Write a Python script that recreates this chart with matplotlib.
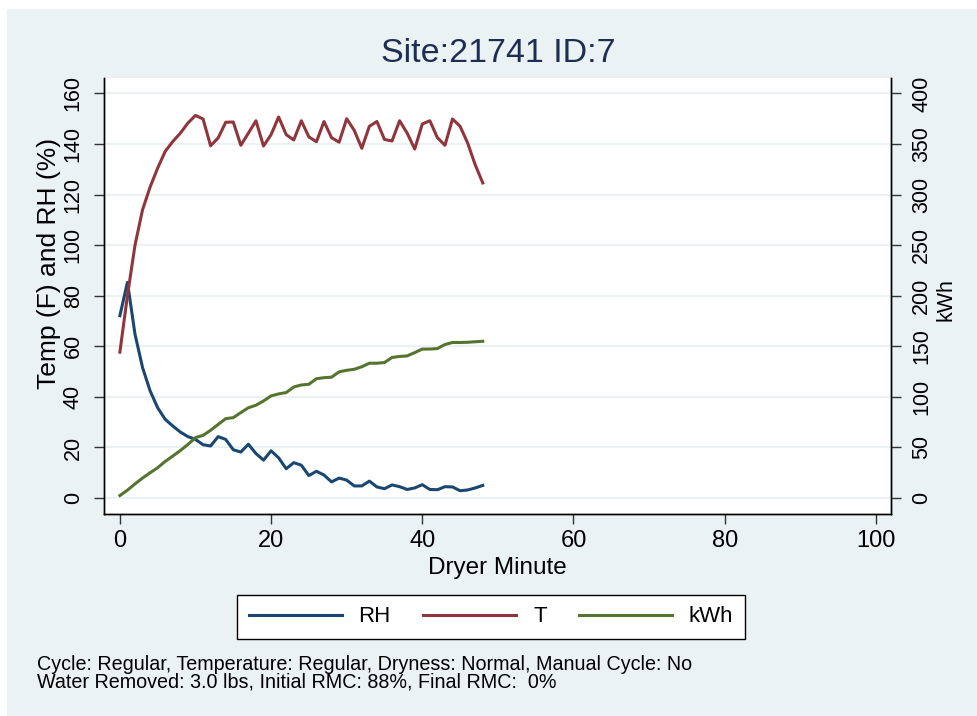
import matplotlib
matplotlib.use("Agg")
import matplotlib.pyplot as plt
from matplotlib.patches import Rectangle

plt.rcParams['font.family'] = ['Liberation Sans', 'DejaVu Sans']

minutes = [0, 1, 2, 3, 4, 5, 6, 7, 8, 9, 10, 11, 12, 13, 14, 15, 16, 17, 18, 19,
           20, 21, 22, 23, 24, 25, 26, 27, 28, 29, 30, 31, 32, 33, 34, 35, 36, 37, 38, 39,
           40, 41, 42, 43, 44, 45, 46, 47, 48]

rh = [72.1, 85.3, 64.8, 51.6, 42.4, 35.7, 31.1, 28.5, 26.1, 24.3,
      23.2, 21.1, 20.6, 24.3, 23.2, 19.1, 18.2, 21.3, 17.6, 15.0,
      18.7, 15.9, 11.6, 14.0, 13.0, 8.9, 10.6, 9.1, 6.4, 7.9,
      7.1, 4.8, 4.8, 6.7, 4.4, 3.7, 5.2, 4.5, 3.4, 4.0,
      5.3, 3.4, 3.3, 4.5, 4.4, 2.9, 3.2, 4.0, 5.0]

temp = [57.7, 80.0, 100.0, 114.0, 123.0, 130.5, 137.1, 141.0, 144.3, 148.3,
        151.3, 149.9, 139.3, 142.4, 148.6, 148.7, 139.5, 144.3, 149.2, 139.2,
        143.7, 150.7, 143.7, 141.6, 149.2, 142.8, 140.9, 148.9, 142.5, 140.7,
        150.0, 145.4, 138.3, 147.0, 148.9, 141.8, 141.2, 149.2, 144.3, 138.0,
        147.9, 149.2, 142.5, 139.5, 149.9, 147.0, 140.4, 131.8, 124.6]

kwh = [2.5, 7.8, 14.0, 19.8, 25.0, 30.0, 36.3, 41.5, 47.0, 53.0,
       59.8, 62.0, 67.0, 72.8, 78.5, 79.5, 84.5, 89.3, 91.8, 96.0,
       101.0, 103.0, 104.3, 109.8, 111.8, 112.5, 118.0, 119.0, 119.5, 124.8,
       126.3, 127.3, 129.8, 133.3, 133.3, 134.0, 139.0, 140.0, 140.5, 143.8,
       147.3, 147.3, 147.8, 151.8, 153.8, 153.8, 154.0, 154.5, 155.0]

left_ticks = [0, 20, 40, 60, 80, 100, 120, 140, 160]
right_ticks = [0, 50, 100, 150, 200, 250, 300, 350, 400]
x_ticks = [0, 20, 40, 60, 80, 100]

bg = '#EAF2F3'
W, H = 977, 716

fig = plt.figure(figsize=(W / 100, H / 100), dpi=100, facecolor='white')
fig.patches.append(Rectangle((7 / W, 0), 1 - 7 / W, 1 - 9 / H, transform=fig.transFigure,
                             facecolor=bg, edgecolor='none', zorder=-10))

ax = fig.add_axes([104 / W, (H - 514) / H, (891 - 104) / W, (514 - 78) / H])
ax.set_facecolor('white')
ax2 = ax.twinx()

l1, = ax.plot(minutes, rh, color='#1a476f', lw=2.2, label='RH')
l2, = ax.plot(minutes, temp, color='#90353b', lw=2.2, label='T')
l3, = ax2.plot(minutes, kwh, color='#55752f', lw=2.2, label='kWh')

ax.set_xlim(-2.1, 102)
ax.set_ylim(-6.3, 166.1)
ax2.set_ylim(-6.3 * 2.5, 166.1 * 2.5)

ax.set_xticks(x_ticks)
ax.set_yticks(left_ticks)
ax2.set_yticks(right_ticks)
ax.grid(axis='y', color=bg, lw=1.5)
ax.set_axisbelow(True)

for a in (ax, ax2):
    a.spines['top'].set_visible(False)
    for s in ('left', 'right', 'bottom'):
        a.spines[s].set_linewidth(1.0)
        a.spines[s].set_color('black')

ax.tick_params(axis='x', length=7.5, width=1, color='#333333', labelsize=17, pad=4)
ax.tick_params(axis='y', length=7.5, width=1, color='#333333', labelsize=15.5, pad=7,
               labelrotation=90)
ax2.tick_params(axis='y', length=7.5, width=1, color='#333333', labelsize=15.5, pad=7,
                labelrotation=90)
plt.setp(ax.get_yticklabels(), va='center')
plt.setp(ax2.get_yticklabels(), va='center')

fig.text(498 / W, 1 - 53 / H, 'Site:21741 ID:7', ha='center', va='center',
         fontsize=24.5, color='#1f2d55')
fig.text(497 / W, 1 - 568 / H, 'Dryer Minute', ha='center', va='center', fontsize=17.5)
fig.text(49 / W, 1 - 263 / H, 'Temp (F) and RH (%)', ha='center', va='center',
         rotation=90, fontsize=19)
fig.text(946 / W, 1 - 300 / H, 'kWh', ha='center', va='center', rotation=90, fontsize=15.5)

leg = fig.legend(handles=[l1, l2, l3], loc='center', ncol=3,
                 bbox_to_anchor=(491 / W, 1 - 617 / H), fontsize=16,
                 handlelength=4.2, handletextpad=0.75, columnspacing=1.45,
                 borderpad=0.5, fancybox=False, framealpha=1, edgecolor='black')
leg.get_frame().set_linewidth(1.0)
for line in leg.get_lines():
    line.set_linewidth(2.2)

fig.text(37 / W, 1 - 655 / H,
         'Cycle: Regular, Temperature: Regular, Dryness: Normal, Manual Cycle: No\n'
         'Water Removed: 3.0 lbs, Initial RMC: 88%, Final RMC:  0%',
         ha='left', va='top', fontsize=14.2, linespacing=0.88)

fig.savefig('out.png', dpi=100, facecolor=fig.get_facecolor())
